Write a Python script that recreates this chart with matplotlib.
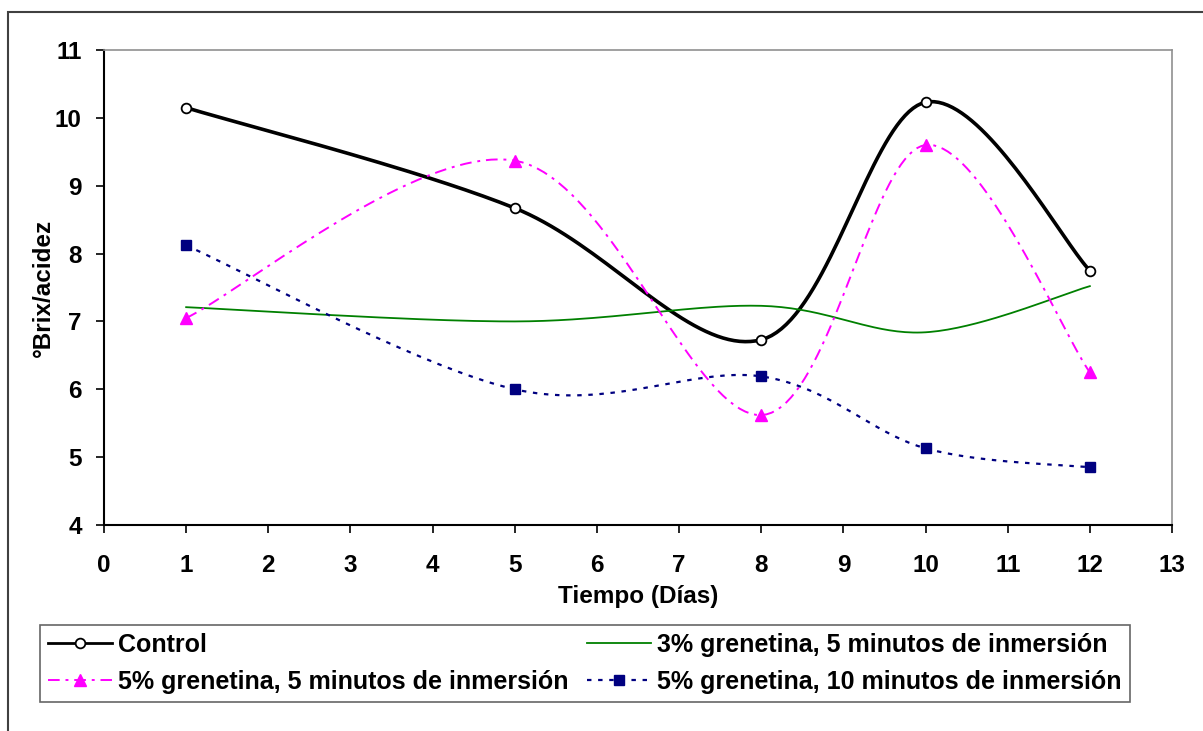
import numpy as np
import matplotlib.pyplot as plt
from matplotlib.lines import Line2D
from matplotlib.patches import Rectangle

plt.rcParams['font.family'] = ['Liberation Sans', 'DejaVu Sans']
plt.rcParams['font.weight'] = 'bold'

dias = [1, 5, 8, 10, 12]
control = [10.15, 8.67, 6.73, 10.23, 7.75]
gren3_5 = [7.21, 7.0, 7.23, 6.84, 7.52]
gren5_5 = [7.05, 9.37, 5.62, 9.6, 6.25]
gren5_10 = [8.12, 6.0, 6.19, 5.13, 4.85]

labels = ['Control',
          '3% grenetina, 5 minutos de inmersión',
          '5% grenetina, 5 minutos de inmersión',
          '5% grenetina, 10 minutos de inmersión']


def smooth(x, y, n=40):
    # Bezier smoothing similar to spreadsheet "smoothed line"
    p = np.column_stack([x, y]).astype(float)
    pts = []
    for i in range(len(p) - 1):
        p0 = p[i - 1] if i > 0 else p[i]
        p3 = p[i + 2] if i + 2 < len(p) else p[i + 1]
        c1 = p[i] + (p[i + 1] - p0) / 6
        c2 = p[i + 1] - (p3 - p[i]) / 6
        t = np.linspace(0, 1, n)[:, None]
        seg = ((1 - t) ** 3 * p[i] + 3 * (1 - t) ** 2 * t * c1
               + 3 * (1 - t) * t ** 2 * c2 + t ** 3 * p[i + 1])
        pts.append(seg)
    s = np.vstack(pts)
    return s[:, 0], s[:, 1]


fig = plt.figure(figsize=(12.03, 7.31), dpi=100)
ax = fig.add_axes([104 / 1203, 1 - 525 / 731, 1068 / 1203, 475 / 731])

styles = [
    dict(color='black', lw=2.6, ls='-', marker='o', ms=7, mfc='white', mec='black', mew=1.3),
    dict(color='#008000', lw=1.3, ls='-', marker='None', ms=0, mfc='none', mec='none', mew=0),
    dict(color='#FF00FF', lw=1.4, ls=(0, (6, 3, 1.5, 3)), marker='^', ms=9, mfc='#FF00FF', mec='#FF00FF', mew=1),
    dict(color='#000080', lw=1.6, ls=(0, (2, 3)), marker='s', ms=7.5, mfc='#000080', mec='#000080', mew=1),
]
series = [control, gren3_5, gren5_5, gren5_10]

handles = []
for yv, st, lab in zip(series, styles, labels):
    xs, ys = smooth(dias, yv)
    ax.plot(xs, ys, color=st['color'], lw=st['lw'], ls=st['ls'], zorder=2)
    if st['marker'] != 'None':
        ax.plot(dias, yv, ls='none', marker=st['marker'], ms=st['ms'],
                mfc=st['mfc'], mec=st['mec'], mew=st['mew'], zorder=3)
    h = Line2D([], [], **st, label=lab)
    if lab == 'Control':
        h.set_linewidth(2.0)
    handles.append(h)

ax.set_xlim(0, 13)
ax.set_ylim(4, 11)
ax.set_xticks(range(0, 14))
ax.set_yticks(range(4, 12))
ax.tick_params(direction='out', length=6, width=1.2, labelsize=17.5)
ax.tick_params(axis='x', pad=15)
ax.tick_params(axis='y', pad=10)
for s in ['top', 'right']:
    ax.spines[s].set_color('#909090')
    ax.spines[s].set_linewidth(1.2)
for s in ['left', 'bottom']:
    ax.spines[s].set_linewidth(1.5)
ax.set_xlabel('Tiempo (Días)', fontsize=17.5, fontweight='bold', labelpad=6)
ax.set_ylabel('°Brix/acidez', fontsize=17.5, fontweight='bold', labelpad=0)

order = [0, 2, 1, 3]
leg = fig.legend([handles[i] for i in order], [labels[i] for i in order],
                 ncol=2, loc='lower left', mode='expand',
                 bbox_to_anchor=(40 / 1203, 1 - 702 / 731, 1090 / 1203, 77 / 731),
                 prop={'size': 18, 'weight': 'bold'}, frameon=True, fancybox=False,
                 handlelength=2.55, handletextpad=0.25, borderaxespad=0,
                 labelspacing=0.52, columnspacing=1.0, borderpad=0.33)
leg.get_frame().set_edgecolor('#404040')
leg.get_frame().set_linewidth(1.2)

fig.patches.append(Rectangle((8 / 1203, -0.1), 1.2, 1 - 12 / 731 + 0.1,
                             transform=fig.transFigure, fill=False,
                             edgecolor='#404040', lw=1.5))

fig.savefig('out.png', dpi=100)
